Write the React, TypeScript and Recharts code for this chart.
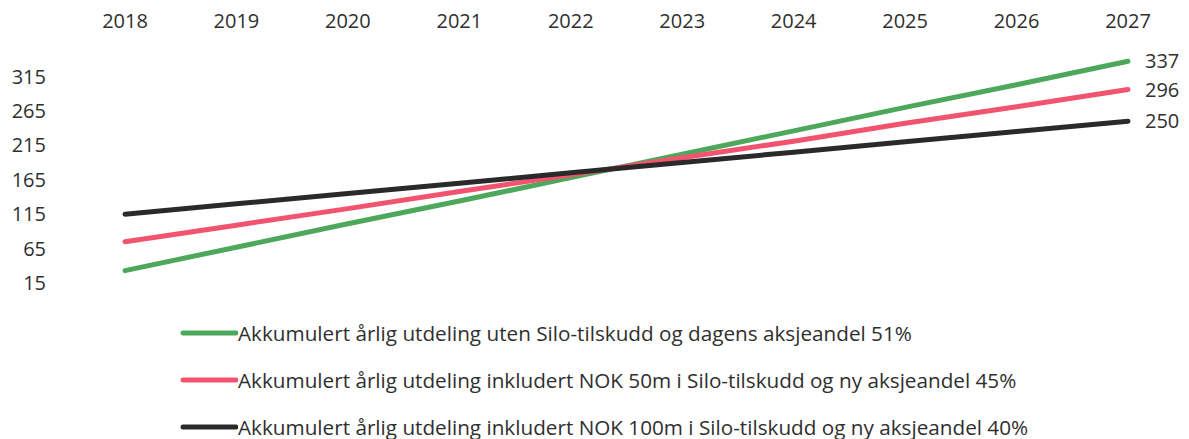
import React from 'react';
import { LineChart, Line, XAxis, YAxis, LabelList } from 'recharts';

const years = ['2018', '2019', '2020', '2021', '2022', '2023', '2024', '2025', '2026', '2027'];
const utenSilo = [33, 67, 101, 134, 168, 202, 236, 270, 303, 337];
const nok50 = [75, 99, 123, 148, 172, 197, 221, 247, 271, 296];
const nok100 = [115, 130, 145, 160, 175, 190, 205, 220, 235, 250];
const yTicks = [15, 65, 115, 165, 215, 265, 315];

const series = [
  { key: 'a', name: 'Akkumulert årlig utdeling uten Silo-tilskudd og dagens aksjeandel 51%', values: utenSilo, color: '#4DA85B' },
  { key: 'b', name: 'Akkumulert årlig utdeling inkludert NOK 50m i Silo-tilskudd og ny aksjeandel 45%', values: nok50, color: '#F2546F' },
  { key: 'c', name: 'Akkumulert årlig utdeling inkludert NOK 100m i Silo-tilskudd og ny aksjeandel 40%', values: nok100, color: '#2A2A2A' },
];

const data = years.map((y, i) => ({
  year: y,
  a: utenSilo[i],
  b: nok50[i],
  c: nok100[i],
}));

const FONT = '"Open Sans", sans-serif';
const TEXT = '#2F2F2F';

const EndLabel = (props: any) => {
  const { x, y, value, index } = props;
  if (index !== years.length - 1) return null;
  return (
    <text x={x + 17} y={y} dy={7} fill={TEXT} fontSize={20} fontFamily={FONT} textAnchor="start">
      {value}
    </text>
  );
};

export default function App() {
  return (
    <div style={{ position: 'relative', width: 1181, height: 431, fontFamily: FONT }}>
      <LineChart
        width={1181}
        height={300}
        data={data}
        margin={{ top: 3, right: 61, bottom: 25, left: 0 }}
      >
        <XAxis
          dataKey="year"
          orientation="top"
          height={31}
          axisLine={false}
          tickLine={false}
          tickSize={0}
          tickMargin={14}
          tick={{ fill: TEXT, fontSize: 20, fontFamily: FONT }}
          interval={0}
        />
        <YAxis
          domain={[15, 365]}
          ticks={yTicks}
          width={117}
          axisLine={false}
          tickLine={false}
          tickSize={0}
          tickMargin={79}
          tick={{ fill: TEXT, fontSize: 20, fontFamily: FONT }}
          interval={0}
        />
        {series.map((s) => (
          <Line
            key={s.key}
            dataKey={s.key}
            name={s.name}
            stroke={s.color}
            strokeWidth={5}
            strokeLinecap="round"
            dot={false}
            activeDot={false}
            type="linear"
            isAnimationActive={false}
          >
            <LabelList dataKey={s.key} content={<EndLabel />} />
          </Line>
        ))}
      </LineChart>
      <div style={{ position: 'absolute', left: 172, top: 313 }}>
        {series.map((s, i) => (
          <div
            key={s.key}
            style={{
              display: 'flex',
              alignItems: 'center',
              height: 24,
              marginBottom: i < series.length - 1 ? 23 : 0,
            }}
          >
            <svg width={58} height={10} style={{ display: 'block' }}>
              <line x1={3} y1={5} x2={56} y2={5} stroke={s.color} strokeWidth={5} strokeLinecap="round" />
            </svg>
            <span style={{ color: TEXT, fontSize: 20.7, fontFamily: FONT, whiteSpace: 'nowrap', lineHeight: '24px' }}>
              {s.name}
            </span>
          </div>
        ))}
      </div>
    </div>
  );
}
